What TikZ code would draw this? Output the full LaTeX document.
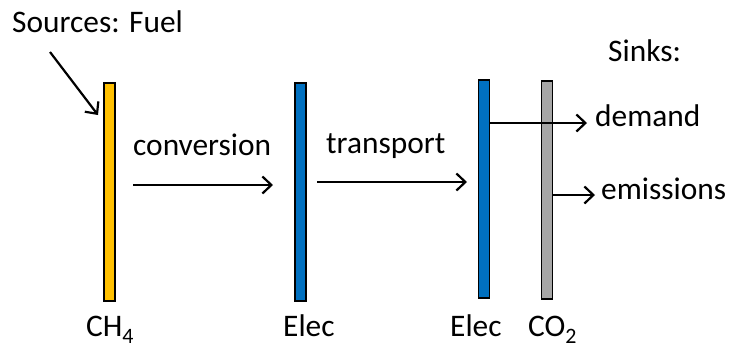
\documentclass[tikz,border=0pt]{standalone}
\usepackage{fontspec}
\setmainfont{Carlito}
\usetikzlibrary{arrows.meta}
\definecolor{fuelyellow}{HTML}{FFC000}
\definecolor{elecblue}{HTML}{0070C0}
\definecolor{co2gray}{HTML}{A6A6A6}
\tikzset{
  bus/.style={draw=black, line width=1.1bp, inner sep=0pt, minimum width=11bp, minimum height=218bp},
  lbl/.style={inner sep=0pt, anchor=base west, font=\fontsize{31.5}{38}\selectfont},
  flow/.style={line width=2.2bp, -{Straight Barb[length=9bp, width=17bp, line width=2.2bp]}}
}
\newcommand{\lowsub}[1]{\raisebox{-0.15ex}{\textsubscript{#1}}}
\begin{document}
\begin{tikzpicture}[x=1bp, y=-1bp]
  \useasboundingbox (0,0) rectangle (729,351);

  % energy buses
  \node[bus, fill=fuelyellow] (ch4) at (109.5,192) {};
  \node[bus, fill=elecblue] (elecA) at (300.5,192) {};
  \node[bus, fill=elecblue] (elecB) at (484,189) {};
  \node[bus, fill=co2gray] (co2) at (547,190) {};

  % bus names
  \node[lbl] (nch4) at (86,336) {CH\lowsub{4}};
  \node[lbl] (nelecA) at (283,336) {Elec};
  \node[lbl] (nelecB) at (450,336) {Elec};
  \node[lbl] (nco2) at (528,336) {CO\lowsub{2}};

  % headings and process names
  \node[lbl] (src) at (12,32) {Sources: Fuel};
  \node[lbl] (snk) at (608,61) {Sinks:};
  \node[lbl] (conv) at (133,155) {conversion};
  \node[lbl] (trans) at (326,153) {transport};
  \node[lbl] (dem) at (595,126) {demand};
  \node[lbl] (emi) at (601,199) {emissions};

  % flows
  \coordinate (srcA) at (50,52);
  \coordinate (srcB) at (98,115);
  \draw[flow] (srcA) -- (srcB);

  \coordinate (convA) at (133,185);
  \coordinate (convB) at (273,185);
  \draw[flow] (convA) -- (convB);

  \coordinate (transA) at (317,182);
  \coordinate (transB) at (467,182);
  \draw[flow] (transA) -- (transB);

  \coordinate (demB) at (587,123);
  \draw[flow] (elecB.east |- demB) -- (demB);

  \coordinate (emiB) at (595,195);
  \draw[flow] (co2.east |- emiB) -- (emiB);
\end{tikzpicture}
\end{document}
